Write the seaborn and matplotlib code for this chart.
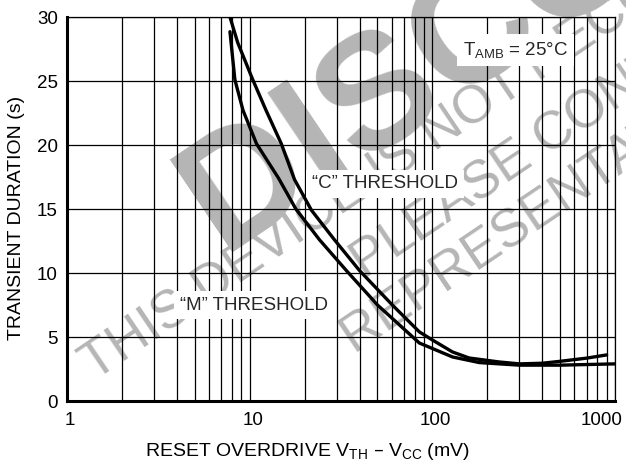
import matplotlib
matplotlib.use("Agg")
import matplotlib.pyplot as plt
import matplotlib.transforms as mtransforms
import seaborn as sns
import pandas as pd

# ---- data ----
c_overdrive = [7.8, 8.6, 10.4, 12.3, 14.9, 17.6, 21.8, 29.1, 39.9, 60.4, 84.9, 100, 129, 159, 232, 300, 400, 500, 700, 900]
c_duration = [30.0, 28.0, 25.1, 22.7, 20.1, 17.3, 14.9, 12.6, 10.2, 7.5, 5.4, 4.77, 3.83, 3.36, 3.05, 2.9, 2.95, 3.1, 3.35, 3.6]

m_overdrive = [7.8, 8.3, 9.2, 10.9, 14.4, 17.9, 24.1, 33.8, 50.1, 84.9, 129, 181, 300, 500, 1000]
m_duration = [28.85, 25.1, 22.7, 20.1, 17.4, 15.0, 12.6, 10.2, 7.5, 4.53, 3.44, 3.0, 2.8, 2.8, 2.9]

x_ticks = [1, 10, 100, 1000]
x_tick_labels = ["1", "10", "100", "1000"]
y_ticks = [0, 5, 10, 15, 20, 25, 30]
y_tick_labels = ["0", "5", "10", "15", "20", "25", "30"]

df = pd.concat([
    pd.DataFrame({"overdrive": c_overdrive, "duration": c_duration, "threshold": "C"}),
    pd.DataFrame({"overdrive": m_overdrive, "duration": m_duration, "threshold": "M"}),
], ignore_index=True)

sns.set_theme(style="white")
plt.rcParams["font.family"] = ["Liberation Sans", "DejaVu Sans"]

W, H = 626, 470
fig = plt.figure(figsize=(W / 100, H / 100), dpi=100)
ax = fig.add_axes([67 / W, 1 - 401 / H, 548 / W, 384 / H])

ax.set_xscale("log")
sns.lineplot(data=df, x="overdrive", y="duration", hue="threshold",
             palette={"C": "black", "M": "black"}, estimator=None, sort=False,
             linewidth=2.4, legend=False, ax=ax, zorder=5)

ax.set_xlim(1, 1000)
ax.set_ylim(0, 30)
ax.set_xticks(x_ticks)
ax.set_xticklabels(x_tick_labels)
ax.set_yticks(y_ticks)
ax.set_yticklabels(y_tick_labels)

ax.set_axisbelow(True)
ax.grid(True, which="both", axis="x", color="black", linewidth=0.9)
ax.grid(True, which="major", axis="y", color="black", linewidth=0.9)
ax.tick_params(axis="both", which="both", length=0, labelsize=13.5, colors="black")
ax.tick_params(axis="x", pad=8)
ax.tick_params(axis="y", pad=6.5)

for side in ["top", "right"]:
    ax.spines[side].set_linewidth(0.9)
    ax.spines[side].set_color("black")
for side in ["left", "bottom"]:
    ax.spines[side].set_linewidth(2.2)
    ax.spines[side].set_color("black")

labels = ax.get_xticklabels()
for i, lab in enumerate(labels):
    dx = 3 if i < len(labels) - 1 else -13
    lab.set_transform(lab.get_transform() + mtransforms.ScaledTranslation(dx / 100, 0, fig.dpi_scale_trans))

ax.set_xlabel("RESET OVERDRIVE V$\\mathregular{_{TH}}$ \u2013 V$\\mathregular{_{CC}}$ (mV)", fontsize=14, color="black")
ax.xaxis.set_label_coords((308 - 67) / 548, (401 - 441) / 384)
ax.set_ylabel("TRANSIENT DURATION (s)", fontsize=14, color="black")
ax.yaxis.set_label_coords((25 - 67) / 548, (401 - 218) / 384)

box = dict(facecolor="white", edgecolor="none", pad=4)
ax.text((463 - 67) / 548, (401 - 50) / 384, "T$\\mathregular{_{AMB}}$ = 25\u00b0C", transform=ax.transAxes,
        fontsize=13.5, va="center", ha="left", bbox=box, zorder=4)
ax.text((312 - 67) / 548, (401 - 184) / 384, "\u201cC\u201d THRESHOLD", transform=ax.transAxes,
        fontsize=13.5, va="center", ha="left", bbox=box, zorder=4)
ax.text((180 - 67) / 548, (401 - 305) / 384, "\u201cM\u201d THRESHOLD", transform=ax.transAxes,
        fontsize=13.5, va="center", ha="left", bbox=box, zorder=4)

wm = "#b5b5b5"
ang = 34
ax.text(222 / W, 1 - 252 / H, "DISCONTINUED", transform=fig.transFigure, rotation=ang,
        rotation_mode="anchor", ha="left", va="baseline", fontsize=118, fontweight="bold",
        color=wm, zorder=0.3, clip_on=False)
ax.text(95 / W, 1 - 382 / H, "THIS DEVICE IS NOT RECOMMENDED FOR NEW DESIGN", transform=fig.transFigure,
        rotation=ang, rotation_mode="anchor", ha="left", va="baseline", fontsize=38,
        color=wm, zorder=0.3, clip_on=False)
ax.text(365 / W, 1 - 280 / H, "PLEASE CONTACT YOUR ON SEMICONDUCTOR", transform=fig.transFigure,
        rotation=ang, rotation_mode="anchor", ha="left", va="baseline", fontsize=38,
        color=wm, zorder=0.3, clip_on=False)
ax.text(355 / W, 1 - 355 / H, "REPRESENTATIVE FOR INFORMATION", transform=fig.transFigure,
        rotation=ang, rotation_mode="anchor", ha="left", va="baseline", fontsize=38,
        color=wm, zorder=0.3, clip_on=False)

fig.savefig("out.png", dpi=100, facecolor="white")
